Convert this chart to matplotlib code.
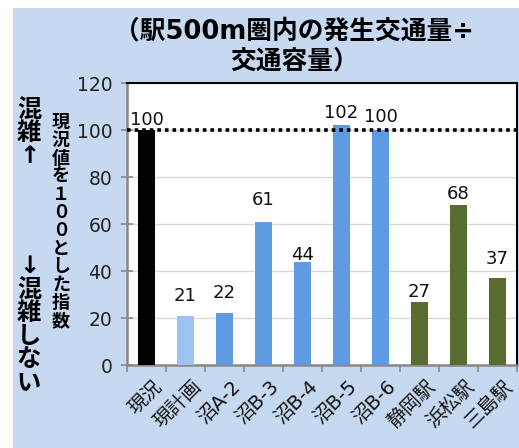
import matplotlib
matplotlib.use("Agg")
import matplotlib.pyplot as plt
from matplotlib.patches import Rectangle
from matplotlib.transforms import ScaledTranslation

plt.rcParams['font.family'] = ['DejaVu Sans', 'Noto Sans CJK JP']

categories = ["現況", "現計画", "沼A-2", "沼B-3", "沼B-4", "沼B-5", "沼B-6", "静岡駅", "浜松駅", "三島駅"]
values = [100, 21, 22, 61, 44, 102, 100, 27, 68, 37]
colors = ["#000000", "#9DC3F2", "#5F9BE2", "#5F9BE2", "#5F9BE2", "#5F9BE2", "#5F9BE2",
          "#596B2F", "#596B2F", "#596B2F"]
yticks = [0, 20, 40, 60, 80, 100, 120]
baseline = 100
# gap (points) between bar top and its value label, as placed in the original
label_gap = [0.7, 8, 8, 9.4, -1.4, 2.2, 2.9, 0.7, 1.4, 7.2]

fig = plt.figure(figsize=(5.19, 4.48), dpi=100)
fig.patch.set_facecolor("white")
fig.patches.append(Rectangle((13 / 519, 0), 1, 1 - 8 / 448, transform=fig.transFigure,
                             facecolor="#C6D9F1", edgecolor="none", zorder=-10))

ax = fig.add_axes([127 / 519, 1 - 365 / 448, 390 / 519, 282 / 448])
ax.set_facecolor("white")
x = list(range(len(categories)))
ax.bar(x, values, width=0.44, color=colors, zorder=3)
for xi, v, g in zip(x, values, label_gap):
    ax.annotate(str(v), (xi, v), xytext=(0, g), textcoords="offset points",
                ha="center", va="bottom", fontsize=13, color="#111111", zorder=5)
ax.axhline(baseline, color="black", lw=2.6, ls=(0, (1, 1.1)), zorder=4)

ax.set_xlim(-0.5, len(categories) - 0.5)
ax.set_ylim(0, 120)
ax.set_yticks(yticks)
ax.set_yticklabels([str(t) for t in yticks], fontsize=13.5, color="#222222")
ax.yaxis.grid(True, color="#D9D9D9", lw=1.0, zorder=0)
ax.set_axisbelow(True)
ax.tick_params(axis="y", direction="inout", length=8, width=1.2, color="#888888", pad=6.5)

ax.set_xticks([i - 0.5 for i in range(len(categories) + 1)])
ax.set_xticklabels([])
ax.set_xticks(x, minor=True)
ax.set_xticklabels(categories, minor=True, rotation=45, ha="right", rotation_mode="anchor",
                   fontsize=14, color="#111111")
ax.tick_params(axis="x", which="major", direction="out", length=5, width=1.2, color="#888888")
ax.tick_params(axis="x", which="minor", length=0, pad=10)
shift = ScaledTranslation(6 / 100, 2 / 100, fig.dpi_scale_trans)
for lab in ax.get_xticklabels(minor=True):
    lab.set_transform(lab.get_transform() + shift)

for side in ("left", "bottom"):
    ax.spines[side].set_color("#888888")
    ax.spines[side].set_linewidth(1.8)
for side in ("top", "right"):
    ax.spines[side].set_color("black")
    ax.spines[side].set_linewidth(1.5)

fig.text(0.567, 1 - 46 / 448, "（駅500m圏内の発生交通量÷\n交通容量）", ha="center", va="center",
         fontsize=18.5, fontweight="bold", linespacing=1.2)

def vertical(s):
    return "\n".join(s)

fig.text(29 / 519, 1 - 133 / 448, vertical("混雑↑"), ha="center", va="center",
         fontsize=17.5, fontweight="bold", linespacing=0.95)
fig.text(29 / 519, 1 - 324 / 448, vertical("↓混雑しない"), ha="center", va="center",
         fontsize=17.5, fontweight="bold", linespacing=0.95)
fig.text(61 / 519, 1 - 222 / 448, vertical("現況値を１００とした指数"), ha="center", va="center",
         fontsize=13, fontweight="bold", linespacing=1.0)

fig.savefig("out.png", dpi=100)
